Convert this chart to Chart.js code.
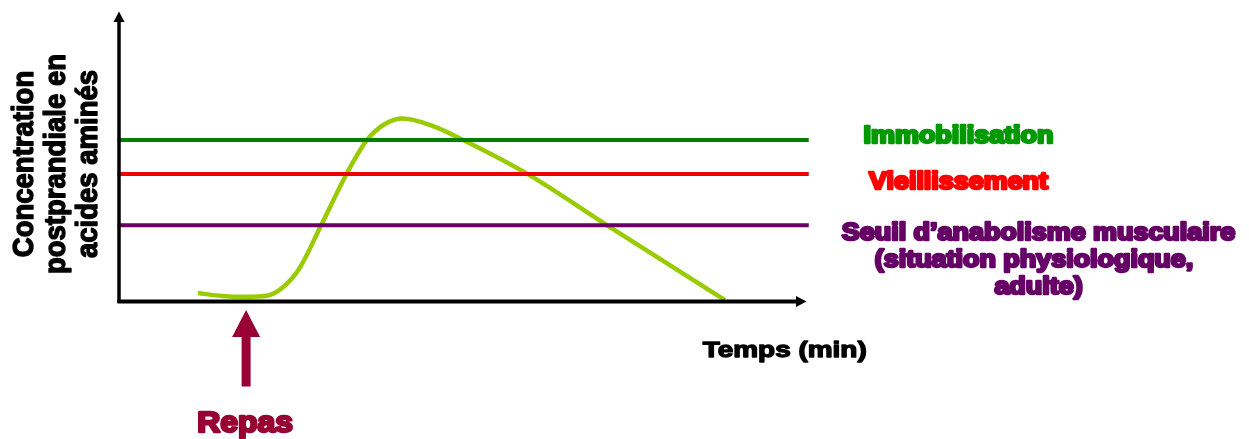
<!DOCTYPE html>
<html>
<head>
<meta charset="utf-8">
<script src="https://cdn.jsdelivr.net/npm/chart.js@4/dist/chart.umd.min.js"></script>
<style>
  html, body { margin: 0; padding: 0; background: #fff; }
  canvas { display: block; }
</style>
</head>
<body>
<canvas id="myChart" width="1249" height="439"></canvas>
<script>
// Postprandial amino acid curve (time in % of axis, concentration in % of axis)
const curveTime = [11.5, 15.0, 18.3, 21.7, 23.9, 26.3, 29.3, 33.2, 36.1, 38.7, 41.3, 45.7, 50.1, 59.5, 71.0, 88.2];
const curveConc = [2.9, 1.9, 1.6, 2.1, 5.0, 11.6, 25.7, 44.4, 55.8, 61.3, 63.2, 60.6, 55.8, 44.0, 26.4, 0.5];

// Threshold lines
const thresholdNames = ['Immobilisation', 'Vieillissement', 'Seuil d\u2019anabolisme musculaire'];
const thresholdLevels = [55.8, 44.0, 26.3];
const thresholdColors = ['#008000', '#ee0000', '#660066'];
const thresholdSpan = [-0.2, 100.4];

const yTitleLines = ['Concentration', 'postprandiale en', 'acides amin\u00e9s'];
const xTitle = 'Temps (min)';
const mealLabel = 'Repas';
const mealTime = 18.5;

const FONT = 'Arial, "Liberation Sans", Helvetica, sans-serif';

function drawLabel(ctx, text, x, y, size, color, sx, outline) {
    ctx.save();
    ctx.translate(x, y);
    ctx.scale(sx, 1);
    ctx.font = 'bold ' + size + 'px ' + FONT;
    ctx.textAlign = 'center';
    ctx.textBaseline = 'alphabetic';
    ctx.fillStyle = color;
    if (outline) {
        ctx.lineWidth = outline;
        ctx.lineJoin = 'round';
        ctx.strokeStyle = color;
        ctx.strokeText(text, 0, 0);
    }
    ctx.fillText(text, 0, 0);
    ctx.restore();
}

// axes with arrows + all the slide texts
const decorations = {
    id: 'decorations',
    afterDatasetsDraw(chart) {
        const ctx = chart.ctx;
        const area = chart.chartArea;
        const xs = chart.scales.x;
        const ys = chart.scales.y;

        ctx.save();
        ctx.fillStyle = '#000';
        ctx.strokeStyle = '#000';
        ctx.lineWidth = 3.5;
        // y axis
        ctx.beginPath();
        ctx.moveTo(area.left, area.bottom + 1.5);
        ctx.lineTo(area.left, area.top + 8);
        ctx.stroke();
        ctx.beginPath();
        ctx.moveTo(area.left, area.top - 0.5);
        ctx.lineTo(area.left - 5.5, area.top + 10);
        ctx.lineTo(area.left + 5.5, area.top + 10);
        ctx.closePath();
        ctx.fill();
        // x axis
        ctx.lineWidth = 4;
        ctx.beginPath();
        ctx.moveTo(area.left - 1.5, area.bottom);
        ctx.lineTo(area.right - 8, area.bottom);
        ctx.stroke();
        ctx.beginPath();
        ctx.moveTo(area.right + 0.5, area.bottom);
        ctx.lineTo(area.right - 10, area.bottom - 5.5);
        ctx.lineTo(area.right - 10, area.bottom + 5.5);
        ctx.closePath();
        ctx.fill();
        ctx.restore();

        // y title, rotated
        ctx.save();
        ctx.translate(0, 164);
        ctx.scale(1.06, 1);
        ctx.rotate(-Math.PI / 2);
        ctx.font = 'bold 27.5px ' + FONT;
        ctx.textAlign = 'center';
        ctx.fillStyle = '#000';
        ctx.strokeStyle = '#000';
        ctx.lineWidth = 1.3;
        ctx.lineJoin = 'round';
        const base = [31, 61.5, 91.5];
        yTitleLines.forEach((t, i) => {
            ctx.strokeText(t, 0, base[i]);
            ctx.fillText(t, 0, base[i]);
        });
        ctx.restore();

        // x title
        drawLabel(ctx, xTitle, 784.7, 357, 22, '#000', 1.27, 1.3);

        // threshold labels
        const gy = ys.getPixelForValue(thresholdLevels[0]);
        const ry = ys.getPixelForValue(thresholdLevels[1]);
        const py = ys.getPixelForValue(thresholdLevels[2]);
        drawLabel(ctx, thresholdNames[0], 958.5, gy + 3, 23, '#009900', 1.17, 2.5);
        drawLabel(ctx, thresholdNames[1], 958.5, ry + 15, 23, '#ff0000', 1.17, 2.5);
        drawLabel(ctx, thresholdNames[2], 1038.5, py + 14.5, 23, '#660066', 1.17, 2.5);
        drawLabel(ctx, '(situation physiologique,', 1034, py + 41.5, 23, '#660066', 1.17, 2.5);
        drawLabel(ctx, 'adulte)', 1038.5, py + 68.5, 23, '#660066', 1.17, 2.5);

        // meal arrow
        const mx = xs.getPixelForValue(mealTime);
        ctx.save();
        ctx.fillStyle = '#990033';
        ctx.beginPath();
        ctx.moveTo(mx, area.bottom + 8.5);
        ctx.lineTo(mx + 14, area.bottom + 35.5);
        ctx.lineTo(mx + 4.5, area.bottom + 35.5);
        ctx.lineTo(mx + 4.5, area.bottom + 85);
        ctx.lineTo(mx - 4.5, area.bottom + 85);
        ctx.lineTo(mx - 4.5, area.bottom + 35.5);
        ctx.lineTo(mx - 14, area.bottom + 35.5);
        ctx.closePath();
        ctx.fill();
        ctx.restore();
        drawLabel(ctx, mealLabel, mx - 1, 432, 29, '#990033', 1.1, 2.5);
    }
};

const datasets = thresholdLevels.map((lvl, i) => ({
    label: thresholdNames[i],
    data: thresholdSpan.map(t => ({ x: t, y: lvl })),
    borderColor: thresholdColors[i],
    borderWidth: 4,
    pointRadius: 0,
    clip: false,
    order: 0
}));
datasets.push({
    label: 'Concentration',
    data: curveTime.map((t, i) => ({ x: t, y: curveConc[i] })),
    borderColor: '#99cc00',
    borderWidth: 4.5,
    pointRadius: 0,
    cubicInterpolationMode: 'monotone',
    clip: false,
    order: 1
});

const ctx = document.getElementById('myChart').getContext('2d');
new Chart(ctx, {
    type: 'line',
    data: { datasets: datasets },
    options: {
        responsive: false,
        animation: false,
        layout: { padding: { left: 119, right: 443, top: 12, bottom: 137.5 } },
        plugins: { legend: { display: false }, tooltip: { enabled: false } },
        scales: {
            x: { type: 'linear', min: 0, max: 100, display: false },
            y: { min: 0, max: 100, display: false }
        }
    },
    plugins: [decorations]
});
</script>
</body>
</html>
